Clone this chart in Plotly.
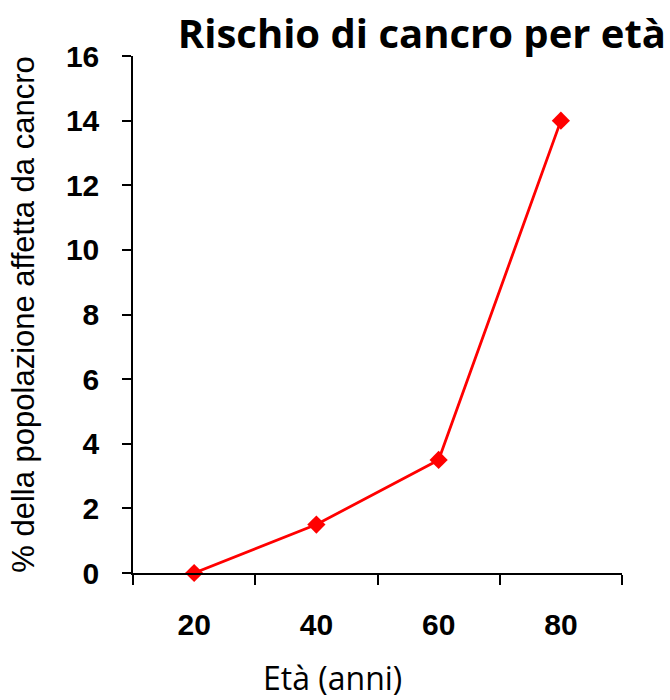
import plotly.graph_objects as go

# Età (anni) e % della popolazione affetta da cancro
eta = ["20", "40", "60", "80"]
percentuale = [0, 1.5, 3.5, 14]
y_ticks = [0, 2, 4, 6, 8, 10, 12, 14, 16]

fig = go.Figure()
fig.add_trace(go.Scatter(
    x=eta,
    y=percentuale,
    mode="lines+markers",
    line=dict(color="#FF0000", width=2.8),
    marker=dict(symbol="diamond", size=14, color="#FF0000"),
    showlegend=False,
    cliponaxis=False,
))

fig.update_layout(
    width=670,
    height=700,
    plot_bgcolor="white",
    paper_bgcolor="white",
    margin=dict(l=133, r=48, t=56, b=127),
    title=dict(
        text="<b>Rischio di cancro per età</b>",
        font=dict(family="Open Sans", size=40, color="black"),
        xref="container", x=666 / 670, xanchor="right",
        yref="container", y=1 - 34 / 700, yanchor="middle",
    ),
    annotations=[dict(
        text="Età (anni)",
        font=dict(family="Open Sans", size=32, color="black"),
        xref="paper", x=(332 - 133) / 489, xanchor="center",
        yref="paper", y=-(677 - 573) / 517, yanchor="middle",
        showarrow=False,
    )],
)

fig.update_xaxes(
    type="category",
    range=[-0.5, 3.5],
    tickson="boundaries",
    ticks="outside",
    ticklen=10,
    tickwidth=1.5,
    tickcolor="black",
    showline=True,
    linecolor="black",
    linewidth=1.5,
    showgrid=False,
    zeroline=False,
    tickfont=dict(family="Arial", size=30, color="black", weight="bold"),
    ticklabelstandoff=24,
)

fig.update_yaxes(
    range=[0, 16],
    tickvals=y_ticks,
    ticks="outside",
    ticklen=9,
    tickwidth=1.5,
    tickcolor="black",
    showline=True,
    linecolor="black",
    linewidth=1.5,
    showgrid=False,
    zeroline=False,
    tickfont=dict(family="Arial", size=30, color="black", weight="bold"),
    ticklabelstandoff=17,
    title=dict(text="% della popolazione affetta da cancro",
               font=dict(family="Arial", size=31, color="black"), standoff=22),
)

fig.write_html("out.html")
